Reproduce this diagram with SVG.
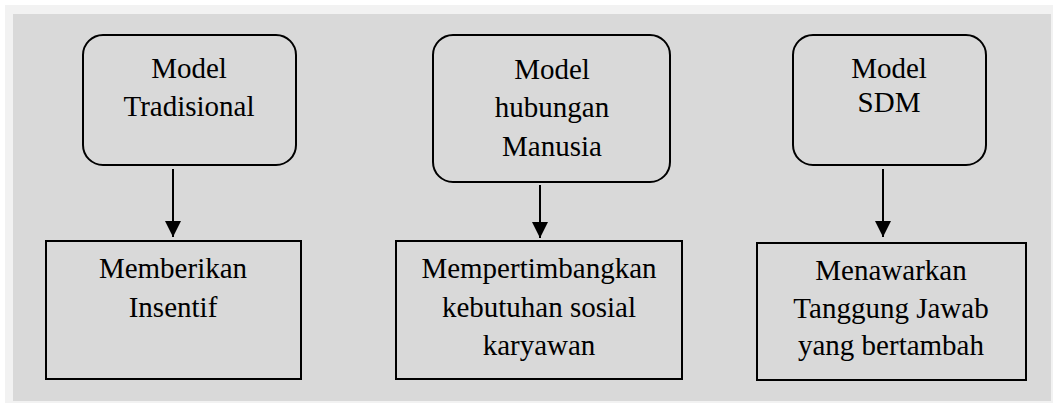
<svg xmlns="http://www.w3.org/2000/svg" width="1053" height="405" viewBox="0 0 1053 405">
<style>
.box{fill:none;stroke:#000;stroke-width:2}
.t{font-family:'Liberation Serif','Times New Roman',Times,'DejaVu Serif',serif;font-size:29px;fill:#000;text-anchor:middle}
.c{stroke:#000;stroke-width:2;fill:none}
</style>
<defs>
<marker id="ah" markerWidth="16" markerHeight="16" viewBox="0 0 16 16" refX="16" refY="8" orient="auto" markerUnits="userSpaceOnUse">
<path d="M0,0 L16,8 L0,16 Z" fill="#000"/>
</marker>
</defs>
<rect x="0" y="0" width="1053" height="405" fill="#fff"/>
<rect x="5" y="5" width="1048" height="398" fill="#f2f2f2"/>
<rect x="13" y="14" width="1038" height="387" fill="#d9d9d9"/>
<g id="n1">
<rect class="box" x="83" y="35" width="213" height="130" rx="20"/>
<text class="t" x="189" y="78" font-family="Liberation Serif">Model</text>
<text class="t" x="189" y="116" font-family="Liberation Serif">Tradisional</text>
</g>
<g id="n2">
<rect class="box" x="46" y="241" width="255" height="138"/>
<text class="t" x="173" y="278">Memberikan</text>
<text class="t" x="173" y="317">Insentif</text>
</g>
<g id="n3">
<rect class="box" x="433" y="35" width="237" height="147" rx="20"/>
<text class="t" x="552" y="79">Model</text>
<text class="t" x="552" y="117">hubungan</text>
<text class="t" x="552" y="156">Manusia</text>
</g>
<g id="n4">
<rect class="box" x="396" y="241" width="286" height="138"/>
<text class="t" x="539" y="278">Mempertimbangkan</text>
<text class="t" x="539" y="317">kebutuhan sosial</text>
<text class="t" x="539" y="355">karyawan</text>
</g>
<g id="n5">
<rect class="box" x="793" y="35" width="193" height="130" rx="20"/>
<text class="t" x="889" y="78">Model</text>
<text class="t" x="889" y="112">SDM</text>
</g>
<g id="n6">
<rect class="box" x="757" y="243" width="269" height="137"/>
<text class="t" x="891" y="280">Menawarkan</text>
<text class="t" x="891" y="318">Tanggung Jawab</text>
<text class="t" x="891" y="355">yang bertambah</text>
</g>
<g id="connectors">
<line class="c" x1="173" y1="169" x2="173" y2="237" marker-end="url(#ah)"/>
<line class="c" x1="540" y1="185" x2="540" y2="238" marker-end="url(#ah)"/>
<line class="c" x1="883" y1="169" x2="883" y2="237" marker-end="url(#ah)"/>
</g>
</svg>
